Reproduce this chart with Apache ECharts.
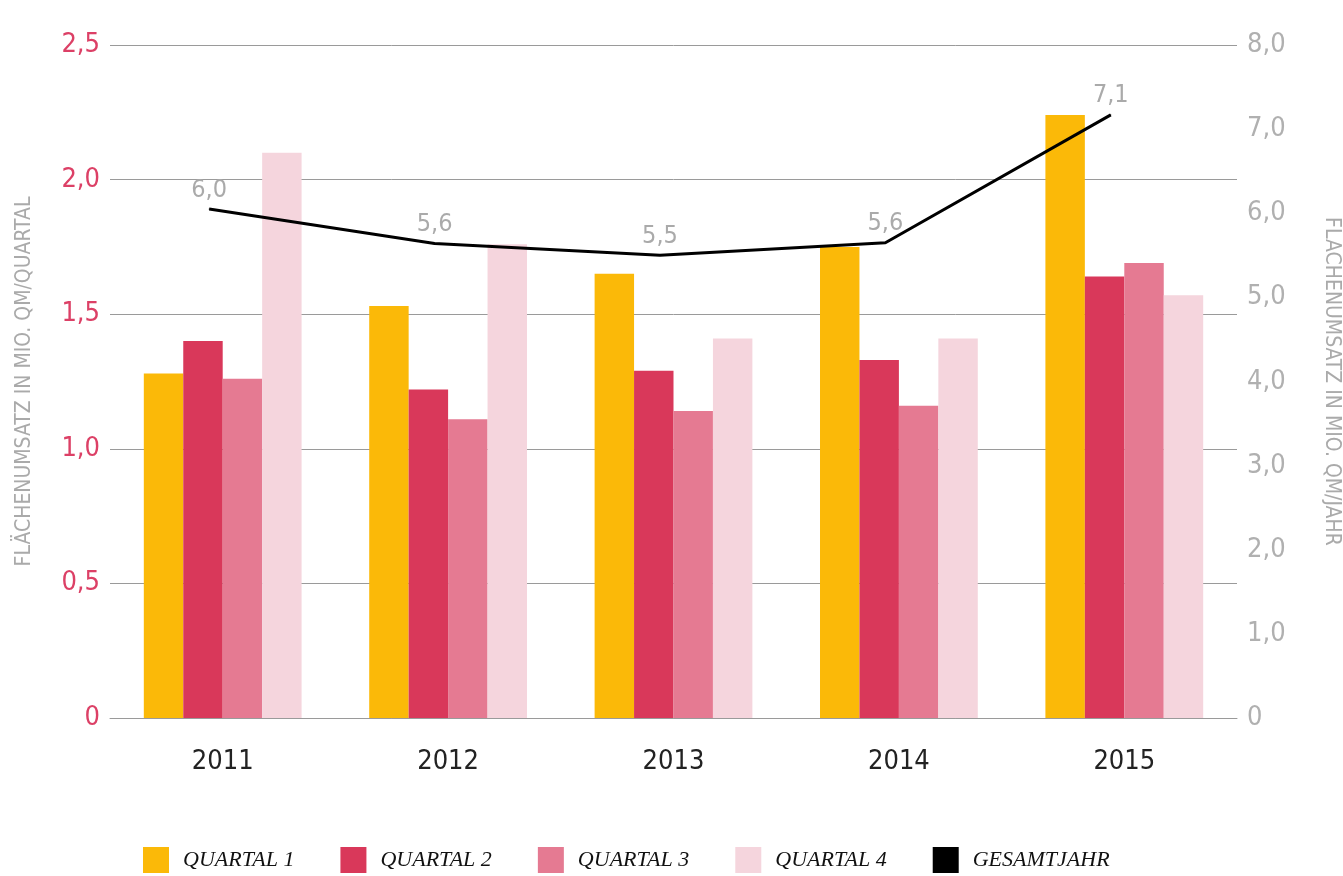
<!DOCTYPE html>
<html>
<head>
<meta charset="utf-8">
<script src="https://cdn.jsdelivr.net/npm/echarts@6/dist/echarts.min.js"></script>
<style>
  html, body { margin: 0; padding: 0; background: #fff; overflow: hidden; }
  #chart { width: 1343px; height: 876px; }
</style>
</head>
<body>
<div id="chart"></div>
<script>
// ---- data ----
const years = ['2011', '2012', '2013', '2014', '2015'];
const quartal1 = [1.28, 1.53, 1.65, 1.75, 2.24];
const quartal2 = [1.40, 1.22, 1.29, 1.33, 1.64];
const quartal3 = [1.26, 1.11, 1.14, 1.16, 1.69];
const quartal4 = [2.10, 1.76, 1.41, 1.41, 1.57];
const gesamtjahr = [6.05, 5.64, 5.50, 5.65, 7.17];
const gesamtLabels = ['6,0', '5,6', '5,5', '5,6', '7,1'];
const seriesNames = ['QUARTAL 1', 'QUARTAL 2', 'QUARTAL 3', 'QUARTAL 4', 'GESAMTJAHR'];

// ---- style ----
const NUM_FONT = "'Liberation Sans Narrow', 'DejaVu Sans Condensed', 'Roboto', sans-serif";
const LEG_FONT = "'Liberation Serif', 'DejaVu Serif', serif";
const colors = ['#FBB908', '#D9385A', '#E57A92', '#F5D5DD', '#000000'];
const LINE_SHIFT = -0.06;

const fmt = v => v === 0 ? '0' : v.toFixed(1).replace('.', ',');

const chart = echarts.init(document.getElementById('chart'), null, { renderer: 'canvas' });

const barSeries = [quartal1, quartal2, quartal3, quartal4].map((d, i) => ({
  name: seriesNames[i],
  type: 'bar',
  xAxisIndex: 0,
  yAxisIndex: 0,
  data: d,
  barGap: '0%',
  barCategoryGap: '30%',
  itemStyle: { color: colors[i] },
  z: 2
}));

chart.setOption({
  animation: false,
  color: colors,
  grid: { left: 110, right: 106, top: 45, bottom: 158, containLabel: false, outerBoundsMode: 'none' },
  legend: {
    left: 143,
    top: 847,
    padding: 0,
    itemWidth: 26,
    itemHeight: 26,
    itemGap: 46,
    icon: 'rect',
    data: seriesNames.map((n, i) => ({ name: n, icon: 'rect', itemStyle: { color: colors[i] } })),
    textStyle: {
      fontFamily: LEG_FONT,
      fontStyle: 'italic',
      fontSize: 22,
      color: '#111',
      padding: [0, 0, 0, 9]
    }
  },
  xAxis: [
    {
      type: 'category',
      data: years,
      boundaryGap: true,
      axisLine: { show: true, lineStyle: { color: '#9a9a9a', width: 1 } },
      axisTick: { show: false },
      axisLabel: { fontFamily: NUM_FONT, fontSize: 27, color: '#222', margin: 30 },
      splitLine: { show: false }
    },
    {
      type: 'value',
      min: -0.5,
      max: 4.5,
      show: false
    }
  ],
  yAxis: [
    {
      type: 'value',
      min: 0,
      max: 2.5,
      interval: 0.5,
      position: 'left',
      name: 'FLÄCHENUMSATZ IN MIO. QM/QUARTAL',
      nameLocation: 'middle',
      nameRotate: 90,
      nameGap: 75,
      nameTextStyle: { fontFamily: NUM_FONT, fontSize: 21, color: '#aaaaaa' },
      axisLine: { show: false },
      axisTick: { show: false },
      axisLabel: { fontFamily: NUM_FONT, fontSize: 27, color: '#DC4066', margin: 10, formatter: fmt },
      splitLine: { show: true, lineStyle: { color: '#9a9a9a', width: 1 } }
    },
    {
      type: 'value',
      min: 0,
      max: 8,
      interval: 1,
      position: 'right',
      name: 'FLÄCHENUMSATZ IN MIO. QM/JAHR',
      nameLocation: 'middle',
      nameRotate: -90,
      nameGap: 84,
      nameTextStyle: { fontFamily: NUM_FONT, fontSize: 21, color: '#aaaaaa' },
      axisLine: { show: false },
      axisTick: { show: false },
      axisLabel: { fontFamily: NUM_FONT, fontSize: 27, color: '#b0b0b0', margin: 10, formatter: fmt },
      splitLine: { show: false }
    }
  ],
  series: [
    ...barSeries,
    {
      name: seriesNames[4],
      type: 'line',
      xAxisIndex: 1,
      yAxisIndex: 1,
      data: gesamtjahr.map((v, i) => [i + LINE_SHIFT, v]),
      symbol: 'circle',
      symbolSize: 1,
      showSymbol: true,
      lineStyle: { color: '#000', width: 3 },
      itemStyle: { color: '#000' },
      z: 5,
      label: {
        show: true,
        position: 'top',
        distance: 6,
        fontFamily: NUM_FONT,
        fontSize: 25,
        color: '#aaaaaa',
        formatter: p => gesamtLabels[p.dataIndex]
      }
    }
  ]
});
</script>
</body>
</html>
